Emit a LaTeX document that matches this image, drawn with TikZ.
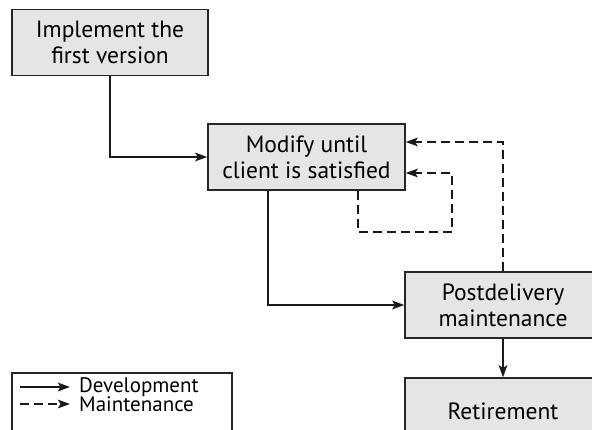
\documentclass[tikz,border=0pt]{standalone}
\usepackage{fontspec}
\setmainfont{PT Sans}
\usetikzlibrary{arrows.meta}
\tikzset{
  stagebox/.style={draw=black!85, line width=1.3pt, fill=black!10, minimum width=196pt, minimum height=66pt, inner sep=0pt, align=center, font=\fontsize{23.5}{26}\selectfont},
  devline/.style={line width=2.3pt, draw=black!90, -{Stealth[length=12pt,width=8.5pt,inset=2.5pt]}},
  mntline/.style={devline, dash pattern=on 9pt off 5pt},
  keytext/.style={right, inner sep=0pt, xshift=8pt, font=\fontsize{21}{22}\selectfont}
}

\begin{document}
\begin{tikzpicture}[x=1pt,y=1pt]
				%%%%% START %%%%%
				\useasboundingbox (0,0) rectangle (592,430);
				\clip (0,0) rectangle (592,430);
				
				\node[stagebox] (impl) at (110, 387.5) {Implement the\\first version};
				\node[stagebox, minimum width=197pt] (modify) at (306.5, 273) {Modify until\\client is satisfied};
				\node[stagebox] (postdel) at (503, 125) {Postdelivery\\maintenance};
				\node[stagebox] (retire) at (503, 19) {Retirement};
				
				% development
				\draw[devline] (impl.south) |- (modify.west);
				\draw[devline] ([xshift=-38.5pt]modify.south) |- (postdel.west);
				\draw[devline] (postdel.south) -- (retire.north);
				
				% maintenance
				\draw[mntline] (postdel.north) |- ([yshift=15pt]modify.east);
				\coordinate (loopbot) at (452, 198);
				\draw[mntline] ([xshift=51.5pt]modify.south) |- (loopbot) |- ([yshift=-16pt]modify.east);
				
				% legend
				\draw[draw=black!85, line width=1.3pt] (12, 57) rectangle (232, -10);
				\coordinate (devstart) at (20, 43);
				\coordinate (mntstart) at (20, 26);
				\draw[devline] (devstart) -- ++(50,0) node[keytext] (devlabel) {Development};
				\draw[mntline] (mntstart) -- ++(50,0) node[keytext] (mntlabel) {Maintenance};
				%%%%% END %%%%%
\end{tikzpicture}
\end{document}
